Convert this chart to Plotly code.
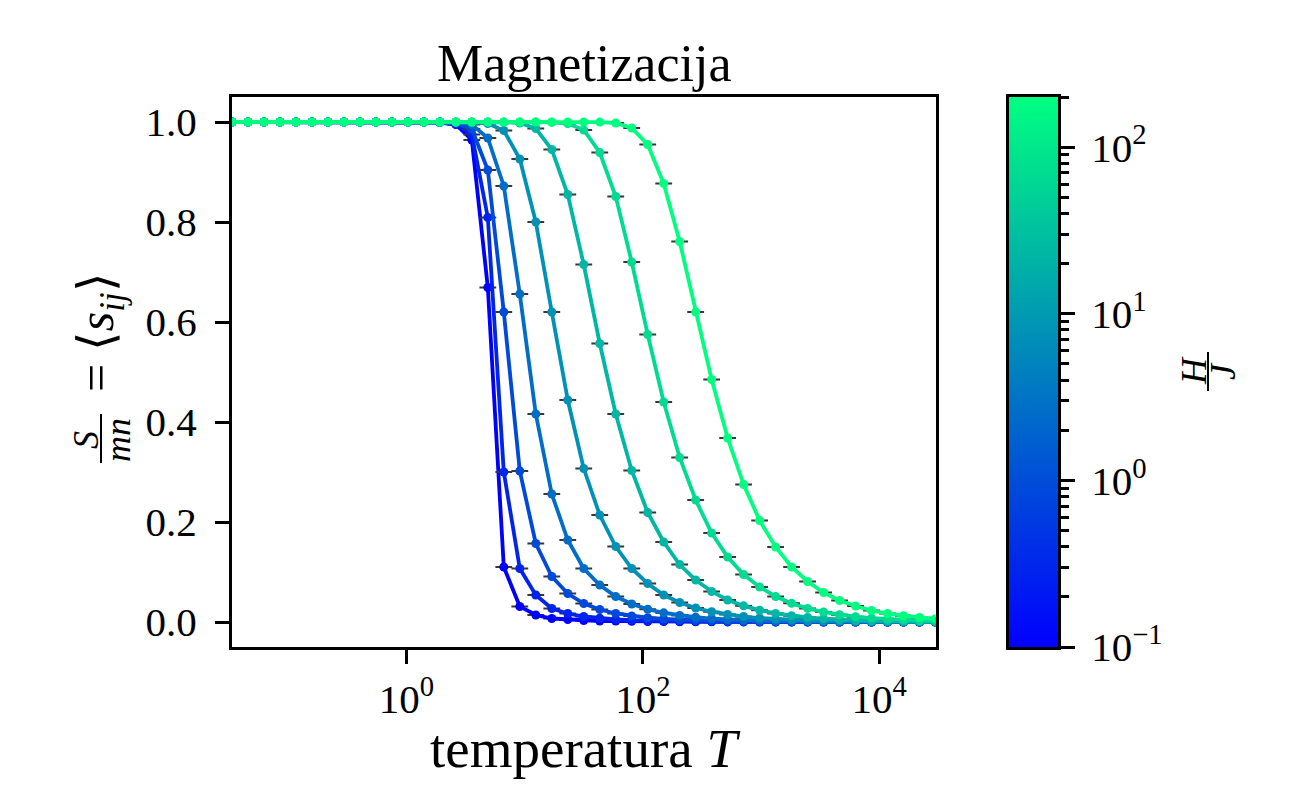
import math
import numpy as np
import plotly.graph_objects as go

# ---------------- data ----------------
T = [0.03334, 0.04551, 0.06215, 0.08492, 0.1160, 0.1584, 0.2162, 0.2953, 0.4033,
     0.5507, 0.7520, 1.027, 1.402, 1.915, 2.615, 3.571, 4.877, 6.659, 9.095,
     12.42, 16.96, 23.16, 31.62, 43.19, 58.98, 80.54, 110.0, 150.2, 205.1, 280.1,
     382.4, 522.3, 713.2, 974.1, 1330, 1816, 2481, 3388, 4627, 6318, 8628,
     11782, 16090, 21975, 30000]

H_VALUES = [0.1, 0.2962, 0.8772, 2.598, 7.696, 22.79, 67.51, 200.0]

M_H1 = [1.0] * 13 + [0.999, 0.995, 0.964, 0.669, 0.110, 0.031, 0.014, 0.007, 0.005,
        0.003, 0.002, 0.002, 0.0015, 0.001, 0.0008, 0.0006, 0.0004, 0.0003, 0.0002,
        0.0002, 0.0001, 0.0001, 0.0001, 0.0001, 0.0, 0.0, 0.0, 0.0, 0.0, 0.0, 0.0, 0.0]
M_H2 = [1.0] * 13 + [0.9995, 0.996, 0.975, 0.809, 0.300, 0.107, 0.054, 0.027, 0.017,
        0.011, 0.0075, 0.0053, 0.0038, 0.0027, 0.002, 0.0014, 0.001, 0.0008, 0.0006,
        0.0004, 0.0003, 0.0002, 0.00016, 0.00012, 0.00009, 0.00006, 0.00005, 0.00003,
        0.00003, 0.00002, 0.00001, 0.00001]
M_H3 = [1.0] * 14 + [0.998, 0.986, 0.904, 0.620, 0.302, 0.157, 0.091, 0.057, 0.037,
        0.025, 0.017, 0.012, 0.0086, 0.0061, 0.0044, 0.0032, 0.0023, 0.0017, 0.0012,
        0.0009, 0.00066, 0.00048, 0.00035, 0.00026, 0.00019, 0.00014, 0.0001,
        0.00007, 0.00005, 0.00004, 0.00003]
M_H4 = [1.0] * 14 + [0.9995, 0.995, 0.968, 0.872, 0.656, 0.416, 0.256, 0.164, 0.107,
        0.074, 0.051, 0.036, 0.0255, 0.0183, 0.0132, 0.0095, 0.0069, 0.005, 0.0037,
        0.0027, 0.002, 0.0014, 0.0011, 0.0008, 0.0006, 0.0004, 0.0003, 0.0002,
        0.00016, 0.00012, 0.00009]
M_H5 = [1.0] * 15 + [0.9995, 0.997, 0.983, 0.926, 0.800, 0.620, 0.444, 0.307, 0.214,
        0.151, 0.107, 0.077, 0.054, 0.039, 0.028, 0.0205, 0.0149, 0.0109, 0.0079,
        0.0058, 0.0042, 0.0031, 0.0023, 0.0017, 0.0012, 0.0009, 0.0007, 0.0005,
        0.0004, 0.0003]
M_H6 = [1.0] * 17 + [0.9995, 0.998, 0.987, 0.945, 0.855, 0.715, 0.557, 0.416, 0.303,
        0.219, 0.160, 0.115, 0.084, 0.061, 0.044, 0.0323, 0.0236, 0.0172, 0.0126,
        0.0092, 0.0067, 0.0049, 0.0036, 0.0026, 0.0019, 0.0014, 0.0010, 0.0008]
M_H7 = [1.0] * 20 + [0.9995, 0.997, 0.984, 0.939, 0.851, 0.720, 0.575, 0.440, 0.329,
        0.244, 0.178, 0.130, 0.095, 0.070, 0.051, 0.0373, 0.0272, 0.0199, 0.0146,
        0.0107, 0.0078, 0.0057, 0.0042, 0.0031, 0.0023]
M_H8 = [1.0] * 23 + [0.9998, 0.998, 0.988, 0.955, 0.877, 0.761, 0.620, 0.485, 0.368,
        0.275, 0.203, 0.150, 0.110, 0.081, 0.059, 0.043, 0.032, 0.023, 0.017, 0.0124,
        0.0091, 0.0067]

CURVES = [M_H1, M_H2, M_H3, M_H4, M_H5, M_H6, M_H7, M_H8]

X_TICKS = [1, 100, 10000]
X_TICKTEXT = ["10<sup>0</sup>", "10<sup>2</sup>", "10<sup>4</sup>"]
Y_TICKS = [0.0, 0.2, 0.4, 0.6, 0.8, 1.0]
Y_TICKTEXT = ["0.0", "0.2", "0.4", "0.6", "0.8", "1.0"]
CB_TICKS = [-1, 0, 1, 2]
CB_TICKTEXT = ["10<sup>\u22121</sup>", "10<sup>0</sup>", "10<sup>1</sup>", "10<sup>2</sup>"]
H_MIN, H_MAX = 0.1, 200.0

# ---------------- styling ----------------
FONT = "Liberation Serif"
OFF = 8                       # page body margin of the browser
W, H = 1290 - OFF, 810 - OFF
# target screen positions (px)
S_PLOT_L, S_PLOT_R, S_PLOT_T, S_PLOT_B = 232, 935.5, 97, 647
S_CB_L, S_CB_R = 1009, 1058
L = S_PLOT_L - OFF
TOP = S_PLOT_T - OFF
R = W - (S_CB_R - OFF)
B = H - (S_PLOT_B - OFF)
PW, PH = W - L - R, H - TOP - B


def px2x(px):
    return (px - OFF - L) / PW


def py2y(py):
    return (H - B - (py - OFF)) / PH


def winter(h):
    t = (math.log10(h) - math.log10(H_MIN)) / (math.log10(H_MAX) - math.log10(H_MIN))
    t = min(max(t, 0.0), 1.0)
    return f"rgb(0,{round(255 * t)},{round(255 * (1 - 0.5 * t))})"


fig = go.Figure()

for h, m in zip(H_VALUES, CURVES):
    col = winter(h)
    # error-bar caps (errors too small to see: caps collapse to a short dash)
    fig.add_trace(go.Scatter(
        x=T, y=m, mode="markers", showlegend=False, hoverinfo="skip",
        marker=dict(symbol="line-ew", size=12, color="rgb(55,55,55)",
                    line=dict(color="rgb(55,55,55)", width=2)),
        xaxis="x", yaxis="y"))
    fig.add_trace(go.Scatter(
        x=T, y=m, mode="lines+markers", showlegend=False,
        line=dict(color=col, width=3.8),
        marker=dict(symbol="circle", size=9, color=col, line=dict(width=0)),
        xaxis="x", yaxis="y"))

# colour bar as a heatmap on its own axes
grid = np.linspace(-1, math.log10(H_MAX), 300)
fig.add_trace(go.Heatmap(
    z=[[v] for v in grid], x=[0.5], y=grid,
    colorscale=[[0, winter(H_MIN)], [1, winter(H_MAX)]],
    zmin=-1, zmax=math.log10(H_MAX), showscale=False, hoverinfo="skip",
    xaxis="x2", yaxis="y2"))

minor_cb = []
for e in (-1, 0, 1, 2):
    for k in range(2, 10):
        v = math.log10(k * 10 ** e)
        if v <= math.log10(H_MAX) + 1e-9:
            minor_cb.append(v)

axis_common = dict(showline=True, linecolor="black", linewidth=3, mirror=True,
                   showgrid=False, zeroline=False, ticks="outside", ticklen=14,
                   tickwidth=3, tickcolor="black",
                   tickfont=dict(family=FONT, size=41, color="black"))

fig.update_layout(
    width=W, height=H,
    margin=dict(l=L, r=R, t=TOP, b=B, pad=0),
    paper_bgcolor="white", plot_bgcolor="white",
    showlegend=False,
    xaxis=dict(type="log", domain=[0, px2x(S_PLOT_R)],
               range=[math.log10(T[0]), math.log10(T[-1])],
               tickmode="array", tickvals=X_TICKS, ticktext=X_TICKTEXT,
               anchor="y", **axis_common),
    yaxis=dict(range=[-0.05, 1.05], domain=[0, 1],
               tickmode="array", tickvals=Y_TICKS, ticktext=Y_TICKTEXT,
               anchor="x", ticklabelstandoff=10, **axis_common),
    xaxis2=dict(domain=[px2x(S_CB_L), 1], range=[0, 1], anchor="y2",
                showticklabels=False, showline=True, linecolor="black", linewidth=3,
                mirror=True, ticks="", showgrid=False, zeroline=False),
    yaxis2=dict(domain=[0, 1], range=[-1, math.log10(H_MAX)], anchor="x2", side="right",
                tickmode="array", tickvals=CB_TICKS, ticktext=CB_TICKTEXT,
                minor=dict(tickmode="array", tickvals=minor_cb, ticks="outside",
                           ticklen=8, tickwidth=2.5, tickcolor="black", showgrid=False),
                ticklabelstandoff=8,
                **axis_common),
)


def note(text, sx, sy, size, angle=0):
    return dict(text=text, x=px2x(sx), y=py2y(sy), xref="paper", yref="paper",
                showarrow=False, textangle=angle, xanchor="center", yanchor="middle",
                font=dict(family=FONT, size=size, color="black"))


ann = [
    note("Magnetizacija", 584, 63, 52),
    note("temperatura <i>T</i>", 585, 748, 55),
    # y label: S/mn = <s_ij>
    note("<i>S</i>", 86, 440, 36, -90),
    note("<i>mn</i>", 118, 440, 36, -90),
    note("= \u27e8<i>s</i><sub><i>ij</i></sub>\u27e9", 100, 332, 50, -90),
    # colour bar label: H/J
    note("<i>H</i>", 1194, 371, 36, -90),
    note("<i>J</i>", 1223, 371, 36, -90),
]
fig.update_layout(annotations=ann)

fig.add_shape(type="line", xref="paper", yref="paper",
              x0=px2x(101), x1=px2x(101), y0=py2y(414), y1=py2y(463),
              line=dict(color="black", width=2))
fig.add_shape(type="line", xref="paper", yref="paper",
              x0=px2x(1208), x1=px2x(1208), y0=py2y(352), y1=py2y(391),
              line=dict(color="black", width=2))

fig.write_html("out.html")
